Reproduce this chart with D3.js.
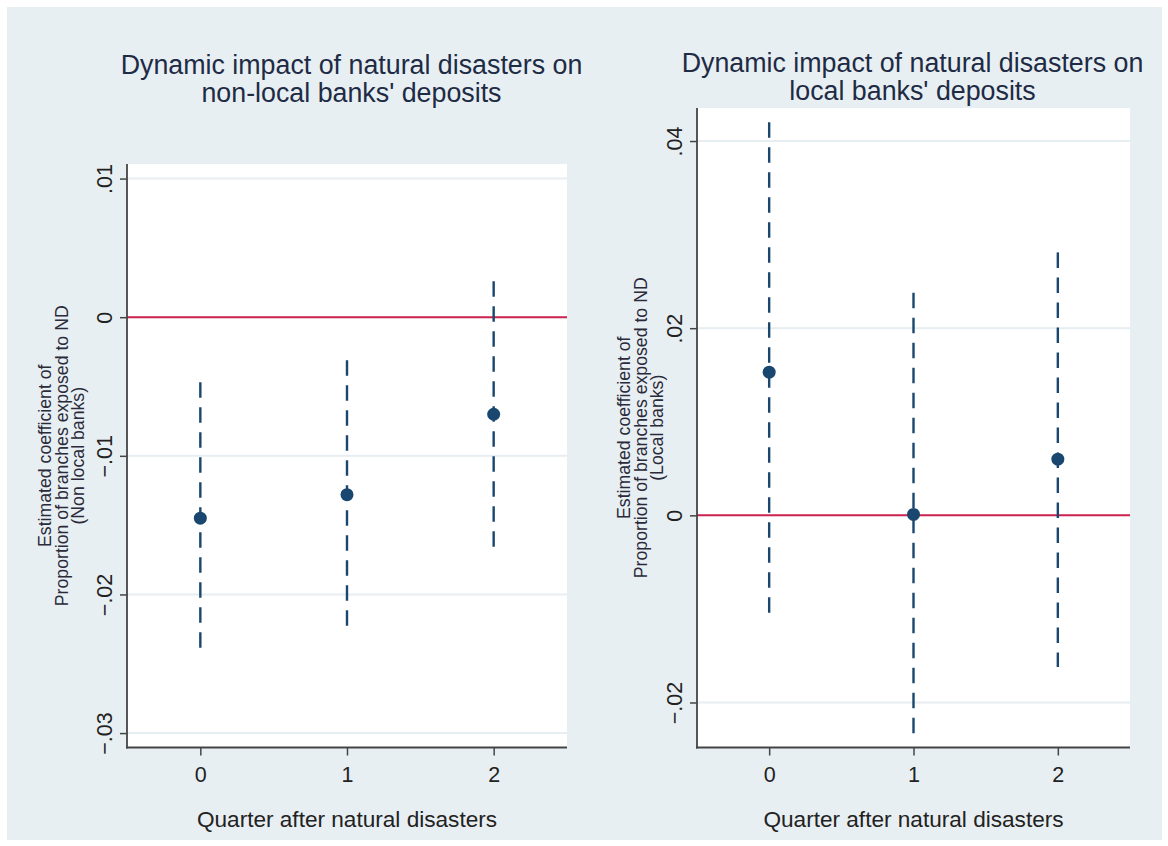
<!DOCTYPE html>
<html>
<head>
<meta charset="utf-8">
<script src="https://cdn.jsdelivr.net/npm/d3@7"></script>
<style>
  body { margin: 0; background: #fff; }
  text { font-family: "Liberation Sans", Arial, sans-serif; }
</style>
</head>
<body>
<div id="chart"></div>
<script>
// quarters after the disaster
var quarters = [0, 1, 2];
var quarterTicks = [0, 1, 2];

// non-local banks: point estimate and CI bounds
var nonLocalCoef = [-0.0145, -0.0128, -0.0070];
var nonLocalLow  = [-0.0242, -0.0225, -0.0168];
var nonLocalHigh = [-0.0047, -0.0031, 0.0026];
var nonLocalTicks = [-0.03, -0.02, -0.01, 0, 0.01];

// local banks
var localCoef = [0.0153, 0.0001, 0.0060];
var localLow  = [-0.0114, -0.0235, -0.0162];
var localHigh = [0.0420, 0.0238, 0.0281];
var localTicks = [-0.02, 0, 0.02, 0.04];

var titles = [
  ["Dynamic impact of natural disasters on", "non-local banks' deposits"],
  ["Dynamic impact of natural disasters on", "local banks' deposits"]
];
var yTitles = [
  ["Estimated coefficient of", "Proportion of branches exposed to ND", "(Non local banks)"],
  ["Estimated coefficient of", "Proportion of branches exposed to ND", "(Local banks)"]
];
var xTitle = "Quarter after natural disasters";

var W = 1168, H = 846;
var bg = "#e8eff2", navy = "#1a476f", red = "#cf2350", grid = "#e6eef1";

var svg = d3.select("#chart").append("svg")
    .attr("width", W).attr("height", H);

svg.append("rect").attr("x", 7).attr("y", 7)
    .attr("width", 1155).attr("height", 833).attr("fill", bg);

// stata style labels: .01, -.02, 0
function fmt(d) {
  if (Math.abs(d) < 1e-9) return "0";
  return d3.format(".2f")(d).replace("0.", ".");
}

function makePanel(p) {
  var g = svg.append("g");
  var x = d3.scaleLinear().domain([-0.5, 2.5]).range([p.left, p.right]);
  var y = d3.scaleLinear().domain(p.yDomain).range([p.bottom, p.top]);

  g.append("rect").attr("x", p.left).attr("y", p.top)
    .attr("width", p.right - p.left).attr("height", p.bottom - p.top)
    .attr("fill", "#fff");

  // grid
  g.selectAll(".grid").data(p.ticks).enter().append("line")
    .attr("x1", p.left).attr("x2", p.right)
    .attr("y1", function(d) { return y(d); })
    .attr("y2", function(d) { return y(d); })
    .attr("stroke", grid).attr("stroke-width", 2);

  // zero line
  g.append("line")
    .attr("x1", p.left).attr("x2", p.right)
    .attr("y1", y(0)).attr("y2", y(0))
    .attr("stroke", red).attr("stroke-width", 2);

  // y axis
  var ya = g.append("g").attr("transform", "translate(" + p.left + ",0)")
    .call(d3.axisLeft(y).tickValues(p.ticks).tickFormat(fmt).tickSize(7).tickSizeOuter(0));
  ya.select(".domain").remove();
  ya.append("line").attr("x1", 0).attr("x2", 0).attr("y1", p.top).attr("y2", p.bottom + 1)
    .attr("stroke", "#444").attr("stroke-width", 1.8);
  ya.selectAll(".tick line").attr("stroke", "#444").attr("stroke-width", 1.5);
  ya.selectAll(".tick text")
    .attr("transform", "rotate(-90)")
    .attr("x", 0).attr("y", -15).attr("dy", 0)
    .attr("text-anchor", "middle")
    .attr("font-size", 21.5).attr("fill", "#222");

  // x axis
  var xa = g.append("g").attr("transform", "translate(0," + p.bottom + ")")
    .call(d3.axisBottom(x).tickValues(quarterTicks).tickFormat(d3.format("d")).tickSize(8).tickSizeOuter(0));
  xa.select(".domain").remove();
  xa.append("line").attr("x1", p.left - 1).attr("x2", p.right).attr("y1", 0).attr("y2", 0)
    .attr("stroke", "#444").attr("stroke-width", 1.8);
  xa.selectAll(".tick line").attr("stroke", "#444").attr("stroke-width", 1.5);
  xa.selectAll(".tick text").attr("y", 34).attr("dy", 0)
    .attr("font-size", 21.5).attr("fill", "#222");

  // CI spikes
  g.selectAll(".ci").data(quarters).enter().append("line")
    .attr("x1", function(d) { return x(d); })
    .attr("x2", function(d) { return x(d); })
    .attr("y1", function(d, i) { return y(p.high[i]); })
    .attr("y2", function(d, i) { return y(p.low[i]); })
    .attr("stroke", navy).attr("stroke-width", 2.4)
    .attr("stroke-dasharray", "15.5,9.5");

  // points
  g.selectAll(".pt").data(quarters).enter().append("circle")
    .attr("cx", function(d) { return x(d); })
    .attr("cy", function(d, i) { return y(p.coef[i]); })
    .attr("r", 6.5).attr("fill", navy);

  // title, two lines
  p.title.forEach(function(s, i) {
    g.append("text").attr("text-anchor", "middle")
      .attr("font-size", 26.8).attr("fill", "#1e2b45")
      .attr("x", p.titleX).attr("y", p.titleY + i * 28)
      .text(s);
  });

  // y title
  var cy = (p.top + p.bottom) / 2;
  p.yTitle.forEach(function(s, i) {
    g.append("text")
      .attr("transform", "translate(" + (p.yTitleX + i * 16.5) + "," + cy + ") rotate(-90)")
      .attr("text-anchor", "middle").attr("font-size", 17.7).attr("fill", "#2a2a3a")
      .text(s);
  });

  // x title
  g.append("text").attr("x", (p.left + p.right) / 2).attr("y", 827)
    .attr("text-anchor", "middle").attr("font-size", 22.6).attr("fill", "#222")
    .text(xTitle);
}

makePanel({
  left: 127, right: 567, top: 164, bottom: 747.5,
  yDomain: [-0.03104, 0.01105], ticks: nonLocalTicks,
  coef: nonLocalCoef, low: nonLocalLow, high: nonLocalHigh,
  title: titles[0], titleX: 351.5, titleY: 73.5,
  yTitle: yTitles[0], yTitleX: 51
});

makePanel({
  left: 697, right: 1130, top: 108, bottom: 747.5,
  yDomain: [-0.02481, 0.04353], ticks: localTicks,
  coef: localCoef, low: localLow, high: localHigh,
  title: titles[1], titleX: 912.5, titleY: 72,
  yTitle: yTitles[1], yTitleX: 630
});
</script>
</body>
</html>
